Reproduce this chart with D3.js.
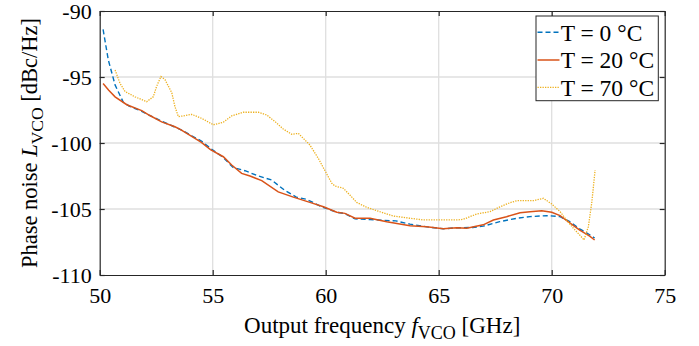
<!DOCTYPE html>
<html><head><meta charset="utf-8">
<script src="https://cdn.jsdelivr.net/npm/d3@7"></script>
<style>body{margin:0;background:#fff}svg{display:block}text{font-family:"Liberation Serif","Times New Roman",serif}</style>
</head><body><svg id="c" width="699" height="346"></svg>
<script>
const xTicks=[50,55,60,65,70,75];
const yTicks=[-110,-105,-100,-95,-90];
const seriesNames=["T = 0 °C","T = 20 °C","T = 70 °C"];
const freq0=[50.15,50.38,50.68,51.04,51.3,51.86,52.2,52.74,53.33,53.6,54.07,54.5,54.9,55.47,55.9,56.43,57.02,57.6,58.2,58.7,59.16,59.82,60.49,60.85,61.3,61.96,62.5,63.1,63.73,64.47,65.2,65.8,66.5,66.97,67.7,68.46,69.04,69.77,70.37,70.8,71.24,71.68,71.9];
const pn0=[-91.4,-93.7,-95.6,-96.9,-97.2,-97.6,-97.9,-98.35,-98.8,-99.0,-99.45,-99.85,-100.4,-101.1,-101.85,-102.1,-102.5,-102.8,-103.6,-104.1,-104.27,-104.83,-105.25,-105.35,-105.75,-105.8,-105.85,-105.9,-106.15,-106.35,-106.5,-106.42,-106.4,-106.3,-105.96,-105.7,-105.58,-105.5,-105.58,-105.96,-106.5,-106.95,-107.2];
const freq20=[50.15,50.4,50.68,51.2,51.86,52.2,52.74,53.33,53.6,54.07,54.5,54.9,55.47,55.84,56.28,56.65,57.17,57.9,58.57,59.3,59.9,60.49,60.85,61.3,61.96,62.7,63.73,64.47,65.2,65.8,66.24,66.97,67.42,68.0,68.6,69.04,69.56,70.0,70.37,70.8,71.24,71.68,71.9];
const pn20=[-95.5,-96.0,-96.5,-97.1,-97.55,-97.9,-98.4,-98.77,-99.0,-99.5,-99.95,-100.5,-101.04,-101.67,-102.3,-102.5,-102.85,-103.7,-104.1,-104.5,-104.83,-105.25,-105.33,-105.7,-105.7,-105.96,-106.26,-106.34,-106.5,-106.42,-106.46,-106.2,-105.83,-105.58,-105.28,-105.2,-105.13,-105.25,-105.5,-106.05,-106.6,-107.05,-107.35];
const freq70=[50.68,50.9,51.12,51.56,52.08,52.37,52.52,52.71,52.89,53.19,53.33,53.48,53.77,54.07,54.51,55.03,55.47,55.84,56.35,57.02,57.39,57.76,58.12,58.5,58.79,59.3,59.67,60.0,60.27,60.41,60.78,61.07,61.37,61.81,62.26,62.99,63.73,64.32,65.8,66.09,66.38,66.68,67.27,67.72,68.16,68.46,69.19,69.63,70.0,70.37,70.65,70.96,71.24,71.43,71.62,71.77,71.92];
const pn70=[-94.47,-95.48,-96.1,-96.5,-96.87,-96.5,-95.7,-94.97,-95.2,-96.2,-97.25,-98.0,-97.93,-97.83,-98.13,-98.62,-98.43,-97.95,-97.67,-97.67,-97.88,-98.38,-98.94,-99.34,-99.27,-100.15,-101.16,-102.2,-103.05,-103.26,-103.43,-103.94,-104.5,-104.87,-105.13,-105.53,-105.7,-105.83,-105.83,-105.78,-105.58,-105.38,-105.2,-104.83,-104.52,-104.37,-104.37,-104.19,-104.62,-105.2,-105.83,-106.46,-106.97,-107.35,-106.34,-104.57,-102.05];

const L=99.7,R=664.7,T=11,B=275;
const FONT="'Liberation Serif','Times New Roman',serif";
const svg=d3.select("#c");
const x=d3.scaleLinear().domain([50,75]).range([L,R]);
const y=d3.scaleLinear().domain([-110,-90]).range([B,T]);
const axisCol="#262626";

// grid
const g=svg.append("g");
g.selectAll(".gx").data(xTicks.slice(1,-1)).enter().append("line")
 .attr("x1",d=>x(d)).attr("x2",d=>x(d)).attr("y1",T).attr("y2",B)
 .attr("stroke","#dfdfdf").attr("stroke-width",1.3);
g.selectAll(".gy").data(yTicks.slice(1,-1)).enter().append("line")
 .attr("x1",L).attr("x2",R).attr("y1",d=>y(d)).attr("y2",d=>y(d))
 .attr("stroke","#dfdfdf").attr("stroke-width",1.3);

// series
const series=[
 {f:freq0,v:pn0,color:"#0072BD",dash:"5,3",w:1.4},
 {f:freq20,v:pn20,color:"#D95319",dash:null,w:1.5},
 {f:freq70,v:pn70,color:"#EDB120",dash:"1.3,1.2",w:1.3}
];
const line=d3.line().x(d=>x(d[0])).y(d=>y(d[1]));
series.forEach(s=>{
 const pts=s.f.map((f,i)=>[f,s.v[i]]);
 const p=svg.append("path").attr("d",line(pts)).attr("fill","none")
  .attr("stroke",s.color).attr("stroke-width",s.w);
 if(s.dash) p.attr("stroke-dasharray",s.dash);
});

// axes (ticks inside)
const tl=5;
const fmt=d=>String(d);
const xb=svg.append("g").attr("transform",`translate(0,${B})`)
 .call(d3.axisBottom(x).tickValues(xTicks).tickFormat(fmt).tickSizeInner(-tl).tickSizeOuter(0).tickPadding(12));
const xt=svg.append("g").attr("transform",`translate(0,${T})`)
 .call(d3.axisTop(x).tickValues(xTicks).tickSizeInner(-tl).tickSizeOuter(0).tickFormat(""));
const yl=svg.append("g").attr("transform",`translate(${L},0)`)
 .call(d3.axisLeft(y).tickValues(yTicks).tickFormat(fmt).tickSizeInner(-tl).tickSizeOuter(0).tickPadding(8));
const yr=svg.append("g").attr("transform",`translate(${R},0)`)
 .call(d3.axisRight(y).tickValues(yTicks).tickSizeInner(-tl).tickSizeOuter(0).tickFormat(""));
[xb,xt,yl,yr].forEach(a=>{
 a.attr("font-family",FONT).attr("font-size",22);
 a.select(".domain").attr("stroke",axisCol).attr("stroke-width",1.2);
 a.selectAll(".tick line").attr("stroke",axisCol).attr("stroke-width",1.2);
 a.selectAll("text").attr("fill","#000").style("font-size","22px").style("font-family",FONT);
});
yl.selectAll("text").attr("dy","0.35em");

// axis labels
const xlab=svg.append("text").attr("x",(L+R)/2).attr("y",333).attr("text-anchor","middle").style("font-size","23px").style("font-family",FONT);
xlab.append("tspan").text("Output frequency ");
xlab.append("tspan").attr("font-style","italic").text("f");
xlab.append("tspan").attr("dy",6).style("font-size","18px").text("VCO");
xlab.append("tspan").attr("dy",-6).text(" [GHz]");

const ylab=svg.append("text").attr("transform",`translate(37,${(T+B)/2}) rotate(-90)`).attr("text-anchor","middle").style("font-size","22.5px").style("font-family",FONT);
ylab.append("tspan").text("Phase noise ");
ylab.append("tspan").attr("font-style","italic").text("L");
ylab.append("tspan").attr("dy",6).style("font-size","17.5px").text("VCO");
ylab.append("tspan").attr("dy",-6).text(" [dBc/Hz]");

// legend
const lg=svg.append("g");
lg.append("rect").attr("x",536).attr("y",16).attr("width",122.3).attr("height",84.7)
 .attr("fill","#fff").attr("stroke",axisCol).attr("stroke-width",1);
const ly=[32.3,60,87.3];
series.forEach((s,i)=>{
 const l=lg.append("line").attr("x1",537.5).attr("x2",559.5).attr("y1",ly[i]).attr("y2",ly[i])
  .attr("stroke",s.color).attr("stroke-width",s.w);
 if(s.dash) l.attr("stroke-dasharray",s.dash);
 lg.append("text").attr("x",560.7).attr("y",ly[i]).attr("dy","0.35em").style("font-size","23.5px").style("font-family",FONT).text(seriesNames[i]);
});
</script></body></html>
